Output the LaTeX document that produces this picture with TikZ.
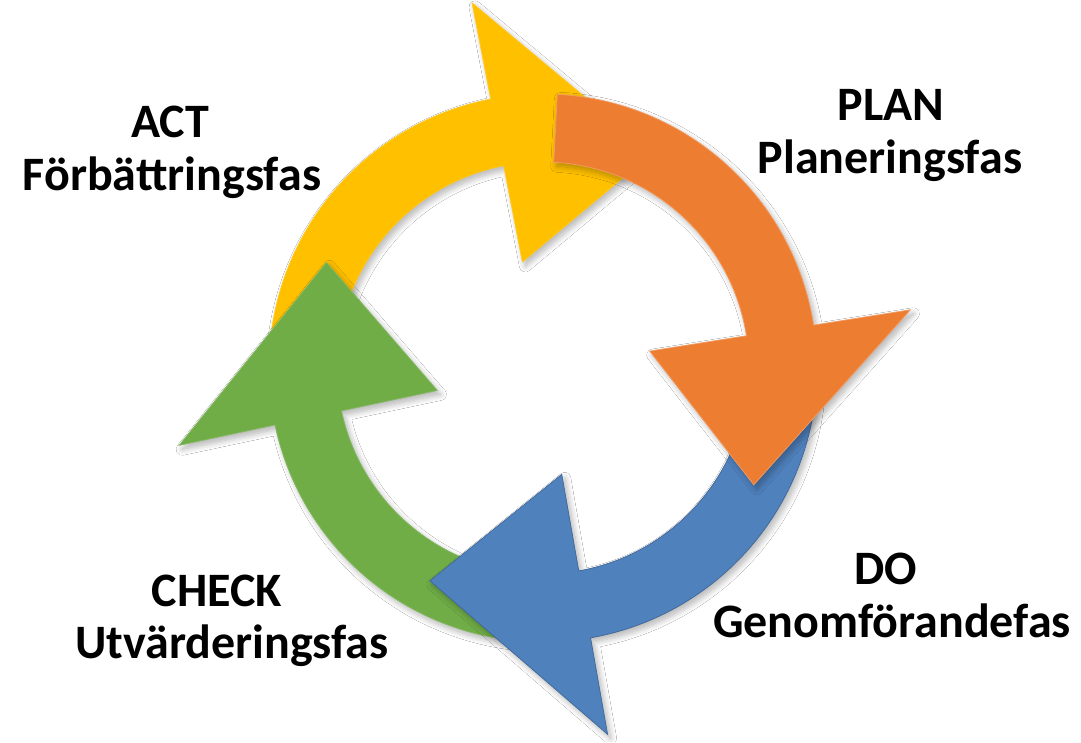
\documentclass[tikz,border=0pt]{standalone}
\usepackage{fontspec}
\setmainfont{Carlito}
\usetikzlibrary{shadows.blur}
\definecolor{pdcayellow}{HTML}{FFC000}
\definecolor{pdcaorange}{HTML}{ED7D31}
\definecolor{pdcagreen}{HTML}{70AD47}
\definecolor{pdcablue}{HTML}{4F81BD}
\newcommand\pdcaarrow[3]{%
  \fill[#1, draw=#3, line width=0.7pt, line join=miter,
        blur shadow={shadow xshift=3pt, shadow yshift=-4pt, shadow blur radius=6pt, shadow blur steps=10, shadow opacity=30}]
    ({#2+78}:274pt) arc[start angle={#2+78}, end angle={#2}, radius=274pt]
    -- ({#2}:372pt) -- ({#2-38}:241pt) -- ({#2}:108pt) -- ({#2}:206pt)
    arc[start angle={#2}, end angle={#2+78}, radius=206pt] -- cycle;}
\tikzset{
  phase/.style={font=\bfseries\fontsize{48}{53}\selectfont, text=black, anchor=base, inner sep=0pt}
}
\begin{document}
\begin{tikzpicture}
\useasboundingbox[fill=white] (0pt,0pt) rectangle (1081pt,742pt);
\begin{scope}[shift={(543pt,374pt)}]
  \pdcaarrow{pdcayellow}{101}{pdcayellow!85!white}
  \pdcaarrow{pdcagreen}{192}{pdcagreen!85!white}
  \pdcaarrow{pdcablue}{-80}{pdcablue!80!black}
  \pdcaarrow{pdcaorange}{9}{pdcaorange!75!white}
\end{scope}
\node[phase] (act1) at (170pt,604pt) {ACT};
\node[phase] (act2) at (172pt,551pt) {Förbättringsfas};
\node[phase] (plan1) at (891pt,621pt) {PLAN};
\node[phase] (plan2) at (890pt,568pt) {Planeringsfas};
\node[phase] (do1) at (886pt,158pt) {DO};
\node[phase] (do2) at (892pt,105pt) {Genomförandefas};
\node[phase] (check1) at (217pt,136pt) {CHECK};
\node[phase] (check2) at (232pt,84pt) {Utvärderingsfas};
\end{tikzpicture}
\end{document}
